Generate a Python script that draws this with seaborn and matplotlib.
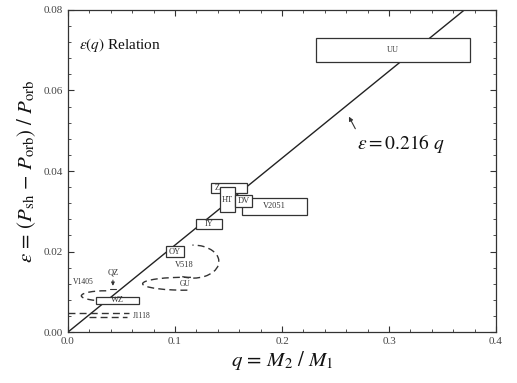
import numpy as np
import pandas as pd
import matplotlib
matplotlib.use("Agg")
import matplotlib.pyplot as plt
import seaborn as sns
from matplotlib.patches import Rectangle, Ellipse, Arc
from matplotlib.ticker import MultipleLocator

# ---- data ----
slope = 0.216
q_line = [0.0, 0.08 / 0.216]

box_names = ["V2051", "UU", "Z", "HT", "DV", "IY", "OY", "WZ"]
box_q_lo = [0.163, 0.232, 0.134, 0.142, 0.156, 0.120, 0.092, 0.026]
box_q_hi = [0.223, 0.376, 0.167, 0.156, 0.172, 0.144, 0.108, 0.066]
box_e_lo = [0.0291, 0.0670, 0.0345, 0.0298, 0.0311, 0.0256, 0.0186, 0.0070]
box_e_hi = [0.0333, 0.0730, 0.0370, 0.0360, 0.0340, 0.0281, 0.0214, 0.0087]

# dashed (uncertain) objects: centre, width, height
ell_names = ["GU", "V518", "V1405"]
ell_q = [0.109, 0.117, 0.035]
ell_e = [0.0120, 0.0175, 0.0090]
ell_w = [0.0785, 0.048, 0.045]
ell_h = [0.0032, 0.0082, 0.0025]

j1118_q = [0.0, 0.057]
j1118_e = [0.0047, 0.0037]
qz_q = 0.042
qz_e = 0.0108

xticks = [0.0, 0.1, 0.2, 0.3, 0.4]
yticks = [0.00, 0.02, 0.04, 0.06, 0.08]

# ---- style ----
sns.set_theme(style="ticks")
plt.rcParams["font.family"] = ["Liberation Serif", "DejaVu Serif"]
plt.rcParams["mathtext.fontset"] = "stix"

fig = plt.figure(figsize=(5.17, 3.83), dpi=100)
ax = fig.add_axes([0.1315, 0.133, 0.828, 0.841])

df = pd.DataFrame({"q": q_line, "eps": [slope * v for v in q_line]})
sns.lineplot(data=df, x="q", y="eps", ax=ax, color="#222222", lw=1.0, zorder=1)

ink = "#333333"
for n, ql, qh, el, eh in zip(box_names, box_q_lo, box_q_hi, box_e_lo, box_e_hi):
    ax.add_patch(Rectangle((ql, el), qh - ql, eh - el, facecolor="white",
                           edgecolor=ink, lw=0.9, zorder=3))
    if n == "Z":
        ax.text(ql + 0.003, (el + eh) / 2, n, fontsize=6, ha="left",
                va="center", color=ink, zorder=4)
    else:
        ax.text((ql + qh) / 2, (el + eh) / 2, n, fontsize=6, ha="center",
                va="center", color=ink, zorder=4)

# dashed ellipses
arcs = {"GU": (15, 345), "V518": (200, 100), "V1405": (60, 300)}
for n, cq, ce, w, h in zip(ell_names, ell_q, ell_e, ell_w, ell_h):
    t1, t2 = arcs[n]
    ax.add_patch(Arc((cq, ce), w, h, theta1=t1, theta2=t2, color=ink,
                     lw=1.0, ls=(0, (5, 3)), zorder=2))
ax.text(ell_q[0], ell_e[0], "GU", fontsize=5.5, ha="center", va="center", color=ink)
ax.text(ell_q[1] - 0.008, ell_e[1] - 0.0008, "V518", fontsize=6, ha="center",
        va="center", color=ink)
ax.text(0.014, 0.0124, "V1405", fontsize=5.5, ha="center", va="center", color=ink)

# QZ upper limit
ax.text(qz_q, 0.0147, "QZ", fontsize=6, ha="center", va="center", color=ink)
ax.annotate("", xy=(qz_q, qz_e), xytext=(qz_q, 0.0136),
            arrowprops=dict(arrowstyle="-|>", color=ink, lw=0.7,
                            mutation_scale=5))
ax.plot([qz_q - 0.003, qz_q + 0.003], [qz_e, qz_e], color=ink, lw=0.8)

# J1118 dashed limits
ax.plot(j1118_q, [j1118_e[0]] * 2, color=ink, lw=1.0, ls=(0, (5, 3)), zorder=2)
ax.plot([0.02, j1118_q[1] - 0.002], [j1118_e[1]] * 2, color=ink, lw=1.0,
        ls=(0, (5, 3)), zorder=2)
ax.text(0.061, 0.0041, "J1118", fontsize=5.5, ha="left", va="center", color=ink)

# annotations
ax.text(0.025, 0.891, r"$\varepsilon(q)$ Relation", transform=ax.transAxes,
        fontsize=11, ha="left", va="center", color="#111111")
ax.text(0.270, 0.0468, r"$\varepsilon = 0.216\ q$", fontsize=14,
        color="#111111", ha="left", va="center")
ax.annotate("", xy=(0.2625, 0.0535), xytext=(0.2685, 0.0505),
            arrowprops=dict(arrowstyle="-|>", color=ink, lw=0.8,
                            mutation_scale=6, shrinkA=0, shrinkB=0))

ax.set_xlim(0, 0.4)
ax.set_ylim(0, 0.08)
ax.set_xticks(xticks)
ax.set_yticks(yticks)
ax.set_xticklabels([f"{v:.1f}" for v in xticks])
ax.set_yticklabels([f"{v:.2f}" for v in yticks])
ax.xaxis.set_minor_locator(MultipleLocator(0.02))
ax.yaxis.set_minor_locator(MultipleLocator(0.004))
ax.tick_params(which="both", direction="in", top=True, right=True,
               labelsize=8, labelcolor="#444444", color="#333333")
ax.tick_params(which="major", length=4, width=0.8)
ax.tick_params(which="minor", length=2, width=0.6)
for s in ax.spines.values():
    s.set_color("#333333")
    s.set_linewidth(0.9)

ax.set_xlabel(r"$q\, =\, M_2\ /\ M_1$", fontsize=15, color="#111111", labelpad=2)
ax.set_ylabel(r"$\varepsilon\, =\, (P_{\rm sh}\, -\, P_{\rm orb})\ /\ P_{\rm orb}$",
              fontsize=15, color="#111111", labelpad=4)

fig.savefig("out.png", dpi=100)
